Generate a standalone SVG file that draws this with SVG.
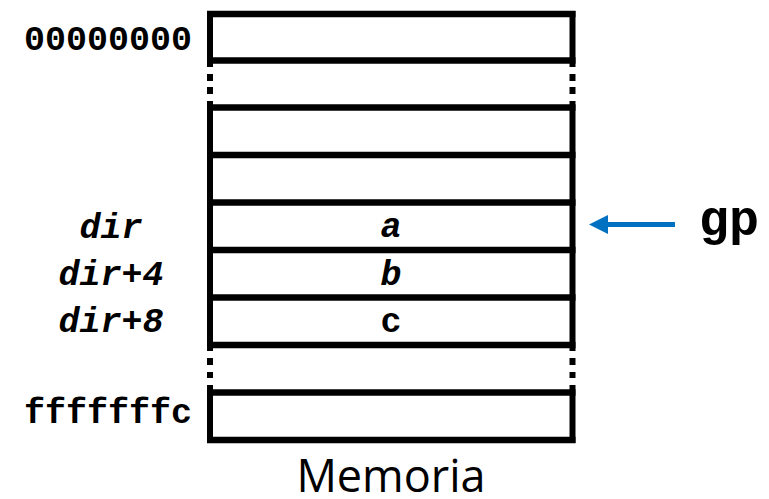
<svg xmlns="http://www.w3.org/2000/svg" width="769" height="499" viewBox="0 0 769 499">
<style>
.h{stroke:#000;stroke-width:6.5;fill:none}
.v{stroke:#000;stroke-width:6;fill:none}
.mono{font-family:"Liberation Mono","Courier New",monospace;font-weight:bold;font-size:35px;fill:#000;text-anchor:middle}
.it{font-style:italic}
.title{font-family:"Open Sans","Noto Sans",sans-serif;font-size:45px;fill:#000;text-anchor:middle}
.arrow{stroke:#0070C0;stroke-width:5;fill:none}
.head{fill:#0070C0}
</style>
<g id="memory">
<g id="borders">
<line class="v" x1="210" y1="11" x2="210" y2="67"/>
<line class="v" x1="210" y1="74" x2="210" y2="81"/>
<line class="v" x1="210" y1="87" x2="210" y2="94"/>
<line class="v" x1="210" y1="101" x2="210" y2="351"/>
<line class="v" x1="210" y1="358" x2="210" y2="365"/>
<line class="v" x1="210" y1="372" x2="210" y2="378"/>
<line class="v" x1="210" y1="385" x2="210" y2="443"/>
<line class="v" x1="572.5" y1="11" x2="572.5" y2="67"/>
<line class="v" x1="572.5" y1="74" x2="572.5" y2="81"/>
<line class="v" x1="572.5" y1="87" x2="572.5" y2="94"/>
<line class="v" x1="572.5" y1="101" x2="572.5" y2="351"/>
<line class="v" x1="572.5" y1="358" x2="572.5" y2="365"/>
<line class="v" x1="572.5" y1="372" x2="572.5" y2="378"/>
<line class="v" x1="572.5" y1="385" x2="572.5" y2="443"/>
</g>
<g id="rows">
<line class="h" x1="207" y1="14" x2="575.5" y2="14"/>
<line class="h" x1="207" y1="60.5" x2="575.5" y2="60.5"/>
<line class="h" x1="207" y1="107.5" x2="575.5" y2="107.5"/>
<line class="h" x1="207" y1="155" x2="575.5" y2="155"/>
<line class="h" x1="207" y1="202.5" x2="575.5" y2="202.5"/>
<line class="h" x1="207" y1="250" x2="575.5" y2="250"/>
<line class="h" x1="207" y1="297.5" x2="575.5" y2="297.5"/>
<line class="h" x1="207" y1="345" x2="575.5" y2="345"/>
<line class="h" x1="207" y1="392.5" x2="575.5" y2="392.5"/>
<line class="h" x1="207" y1="440" x2="575.5" y2="440"/>
</g>
</g>
<g id="cell-a"><text class="mono it" x="391" y="237">a</text></g>
<g id="cell-b"><text class="mono it" x="391" y="285">b</text></g>
<g id="cell-c"><text class="mono" x="391" y="332">c</text></g>
<g id="addr-0"><text class="mono" x="108" y="50">00000000</text></g>
<g id="addr-dir"><text class="mono it" x="111" y="238">dir</text></g>
<g id="addr-dir4"><text class="mono it" x="111" y="285">dir+4</text></g>
<g id="addr-dir8"><text class="mono it" x="111" y="332">dir+8</text></g>
<g id="addr-f"><text class="mono" x="108" y="423">fffffffc</text></g>
<g id="gp"><text class="mono" x="729" y="235" style="font-size:50px">gp</text></g>
<g id="title"><text class="title" x="391" y="492">Memoria</text></g>
<g id="connectors">
<line class="arrow" x1="675" y1="224.5" x2="605" y2="224.5"/>
<polygon class="head" points="589,224.5 608,215 608,234"/>
</g>
</svg>
